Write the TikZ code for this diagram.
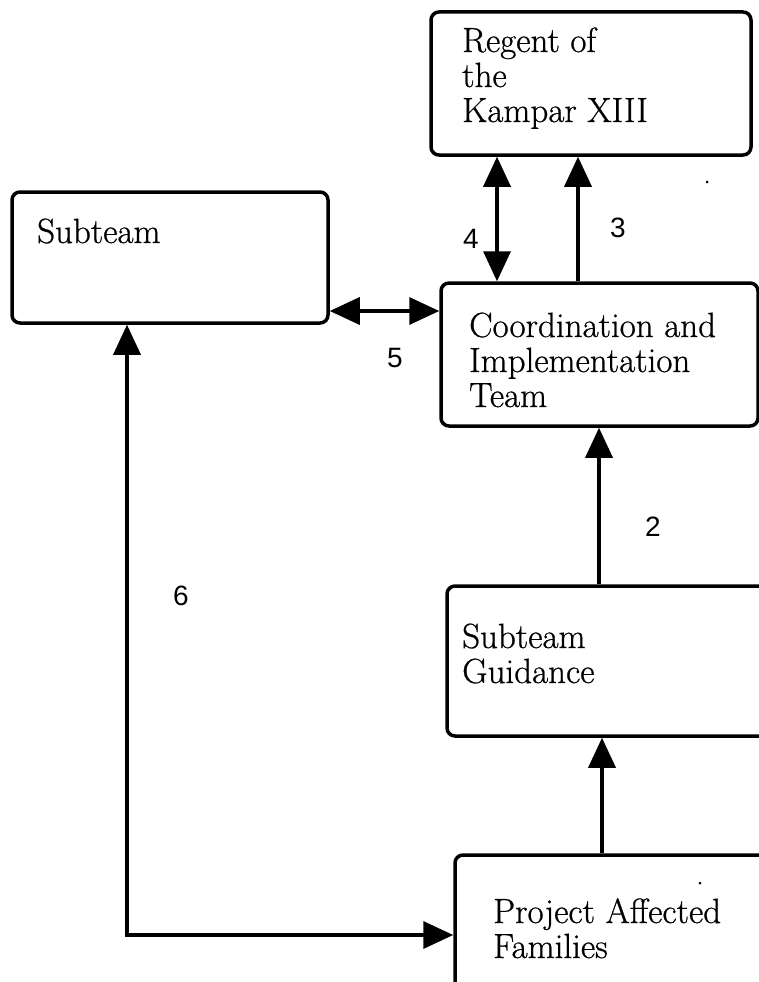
\documentclass[tikz,border=0pt]{standalone}
\usepackage{fontspec}
\setmainfont[FakeBold=0.7]{Latin Modern Roman}
\newfontfamily\numfont{Liberation Sans}
\usetikzlibrary{arrows.meta}
\begin{document}
\begin{tikzpicture}[x=1pt,y=-1pt,
  box/.style={draw=black,line width=3.5pt,rounded corners=8pt,fill=white,inner sep=0pt},
  txt/.style={anchor=base west,align=left,inner sep=0pt,font=\fontsize{35}{35}\selectfont},
  num/.style={inner sep=0pt,font=\numfont\fontsize{28}{28}\selectfont},
  conn/.style={line width=3.5pt},
  tip/.tip={Triangle[length=30pt,width=27pt]}
]
\useasboundingbox (0,0) rectangle (759,982);
\clip (0,0) rectangle (759,982);
\fill[white] (0,0) rectangle (759,982);

% boxes
\node[box,minimum width=320pt,minimum height=143pt] (regent) at (591,83.5) {};
\node[box,minimum width=316pt,minimum height=131pt] (sub) at (170,257.5) {};
\node[box,minimum width=317pt,minimum height=143pt] (coord) at (599.5,354.5) {};
\node[box,minimum width=353pt,minimum height=150pt] (guid) at (623.5,661) {};
\node[box,minimum width=345pt,minimum height=165pt] (paf) at (627.5,937.5) {};

% texts (anchored at the baseline of the last line)
\node[txt] (regentT) at (462,122) {Regent of\\the\\Kampar XIII};
\node[txt] (subT) at (37,243) {Subteam};
\node[txt] (coordT) at (469,407) {Coordination and\\Implementation\\Team};
\node[txt] (guidT) at (462,683) {Subteam\\Guidance};
\node[txt] (pafT) at (493,958) {Project Affected\\Families};

% helper coordinates
\coordinate (x4) at (497,0);
\coordinate (x3) at (578,0);
\coordinate (y5) at (0,311);
\coordinate (x2) at (599,0);
\coordinate (x1) at (602,0);
\coordinate (x6) at (127,0);
\coordinate (y6) at (0,935);

% connectors
\draw[conn,tip-tip] (x4 |- regent.south) -- (x4 |- coord.north);
\draw[conn,-tip] (x3 |- coord.north) -- (x3 |- regent.south);
\draw[conn,tip-tip] (y5 -| sub.east) -- (y5 -| coord.west);
\draw[conn,-tip] (x2 |- guid.north) -- (x2 |- coord.south);
\draw[conn,-tip] (x1 |- paf.north) -- (x1 |- guid.south);
\draw[conn,tip-tip] (x6 |- sub.south) -- (x6 |- y6) -- (y6 -| paf.west);

% labels
\node[num] (l4) at (471,239) {4};
\node[num] (l3) at (618,228) {3};
\node[num] (l5) at (395,358) {5};
\node[num] (l2) at (653,527) {2};
\node[num] (l6) at (181,596) {6};

% specks
\fill (707,182) circle (1.5pt);
\fill (700,883) circle (1.5pt);
\end{tikzpicture}
\end{document}
